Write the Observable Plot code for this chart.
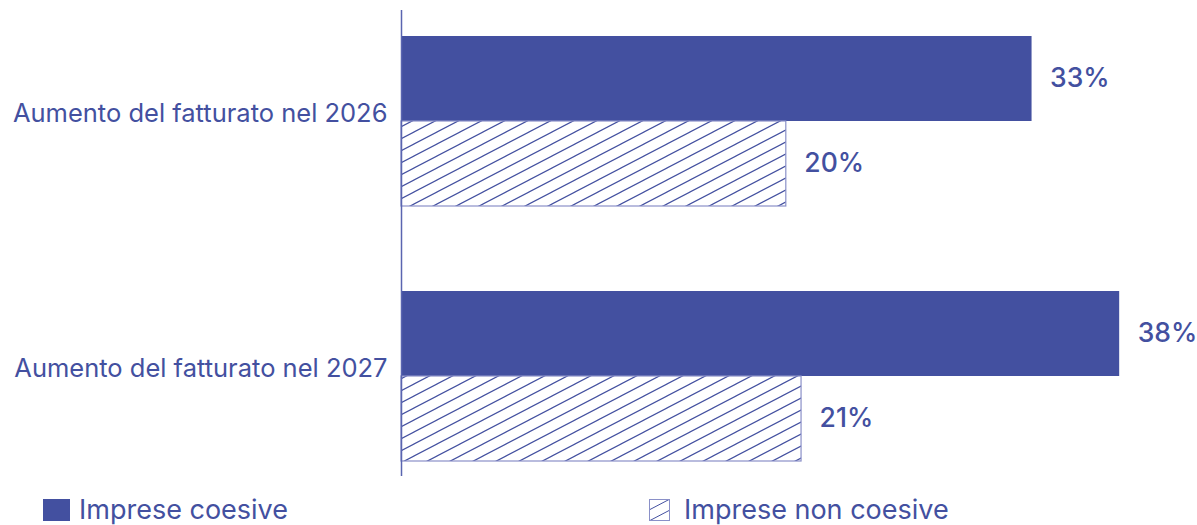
<!DOCTYPE html>
<html><head><meta charset="utf-8">
<script src="https://cdn.jsdelivr.net/npm/d3@7"></script>
<script src="https://cdn.jsdelivr.net/npm/@observablehq/plot@0.6"></script>
<style>
body{margin:0;background:#fff;font-family:Inter,"Open Sans",sans-serif;}
#legend{position:relative;height:40px;width:1197px;color:#4350A0;font-family:Inter,sans-serif;font-size:27px;}
.item{position:absolute;top:11px;display:flex;align-items:center;height:28px;line-height:28px;}
.sw{display:inline-block;margin-right:9px;}
</style></head><body>
<div id="chart"></div>
<div id="legend"></div>
<script>
const categories = ["Aumento del fatturato nel 2026", "Aumento del fatturato nel 2027"];
const seriesNames = ["Imprese coesive", "Imprese non coesive"];
const coesive = [33.1, 37.7];
const nonCoesive = [20.2, 21.0];

const color = "#4350A0";
const rows = [];
categories.forEach((c, i) => {
  rows.push({cat: c, series: seriesNames[0], value: coesive[i], key: c + "|" + seriesNames[0]});
  rows.push({cat: c, series: seriesNames[1], value: nonCoesive[i], key: c + "|" + seriesNames[1]});
});
const yDomain = [rows[0].key, rows[1].key, "gap", rows[2].key, rows[3].key];

const plot = Plot.plot({
  width: 1197,
  height: 485,
  marginLeft: 401,
  marginRight: 34,
  marginTop: 10,
  marginBottom: 9,
  style: {fontFamily: "Inter, sans-serif", color: color, background: "#fff"},
  x: {domain: [0, 40], axis: null},
  y: {domain: yDomain, axis: null, padding: 0, insetTop: 25, insetBottom: 13.5},
  marks: [
    Plot.barX(rows.filter(d => d.series === seriesNames[0]), {x: "value", y: "key", fill: color}),
    Plot.barX(rows.filter(d => d.series === seriesNames[1]), {x: "value", y: "key", fill: "url(#hatch)", stroke: "#8a90c8", strokeWidth: 1.2}),
    Plot.ruleX([0], {stroke: "#5a65b0", strokeWidth: 1.5}),
    Plot.text(rows, {x: "value", y: "key", text: d => Math.round(d.value) + "%", textAnchor: "start", dx: 18, fontSize: 26.5, fontWeight: 500, fill: color}),
    Plot.text(rows.filter(d => d.series === seriesNames[0]), {x: 0, y: "key", text: "cat", textAnchor: "end", lineAnchor: "bottom", dx: -14, dy: 43, fontSize: 25.5, fill: color})
  ]
});
plot.insertAdjacentHTML("afterbegin", `<defs><pattern id="hatch" patternUnits="userSpaceOnUse" width="23" height="12"><path d="M0,12 L23,0 M-2.3,1.2 L2.3,-1.2 M20.7,13.2 L25.3,10.8" stroke="${color}" stroke-width="1.2" fill="none"/></pattern></defs>`);
document.getElementById("chart").appendChild(plot);

const legend = document.getElementById("legend");
legend.innerHTML = `
<div class="item" style="left:43px"><svg class="sw" width="27" height="22"><rect width="27" height="22" fill="${color}"/></svg>${seriesNames[0]}</div>
<div class="item" style="left:649px"><svg class="sw" width="21" height="22" style="margin-right:14px"><defs><pattern id="hatch2" patternUnits="userSpaceOnUse" width="21" height="11"><path d="M0,11 L21,0 M-2.1,1.1 L2.1,-1.1 M18.9,12.1 L23.1,9.9" stroke="${color}" stroke-width="1" fill="none"/></pattern></defs><rect x="0.5" y="0.5" width="20" height="21" fill="url(#hatch2)" stroke="#8a90c8"/></svg>${seriesNames[1]}</div>`;
</script>
</body></html>
